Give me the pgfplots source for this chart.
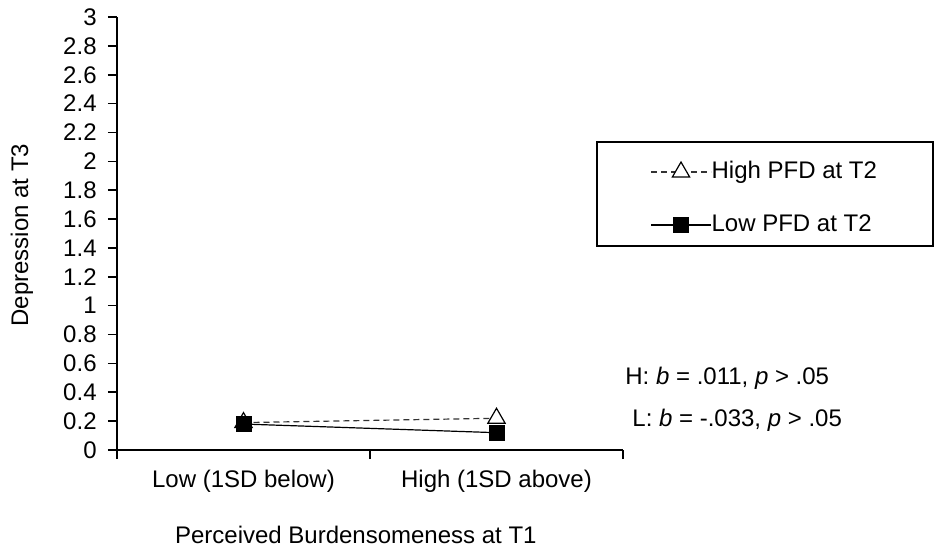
\documentclass[border=0pt]{standalone}
\usepackage{fontspec}
\setmainfont{Liberation Sans}
\usepackage{pgfplots}
\pgfplotsset{compat=1.18}
\usetikzlibrary{plotmarks}

\begin{document}
\begin{tikzpicture}
\fontsize{12}{14}\selectfont
\begin{axis}[
    scale only axis,
    width=253pt,
    height=216.5pt,
    xmin=0, xmax=2,
    ymin=0, ymax=3,
    axis x line=bottom,
    axis y line=left,
    axis line style={-, line width=0.8pt},
    every tick/.style={black, line width=0.8pt},
    tick align=outside,
    major tick length=4.5pt,
    tick label style={font=\fontsize{12}{14}\selectfont},
    xtick={0,1,2},
    xticklabels={},
    extra x ticks={0.5,1.5},
    extra x tick labels={Low (1SD below),High (1SD above)},
    extra x tick style={major tick length=0pt, xticklabel style={yshift=-6pt}},
    ytick={0,0.2,...,3.01},
    yticklabels={0,0.2,0.4,0.6,0.8,1,1.2,1.4,1.6,1.8,2,2.2,2.4,2.6,2.8,3},
    yticklabel style={font=\fontsize{12}{14}\selectfont, xshift=-1.5pt},
    xlabel={Perceived Burdensomeness at T1},
    xlabel style={at={(axis description cs:0.472,0)}, anchor=center, yshift=-42.5pt, font=\fontsize{12}{14}\selectfont},
    ylabel={Depression at T3},
    ylabel style={at={(axis description cs:-0.1877,0.4965)}, anchor=center, font=\fontsize{12}{14}\selectfont},
    clip=false,
    legend image code/.code={
        \draw[mark repeat=2,mark phase=2] plot coordinates {(0pt,0pt) (15pt,0pt) (30pt,0pt)};
    },
    legend style={
        draw=none, fill=none,
        at={(1.0415,0.5808)}, anchor=west,
        font=\fontsize{12}{14}\selectfont,
        nodes={inner sep=0pt, text height=8.6pt, text depth=2.6pt},
        row sep=15.3pt,
        column sep=0pt,
        cells={anchor=west},
    },
]
\addplot[black!80, densely dashed, line width=0.6pt,
    mark=triangle*, mark size=5pt,
    mark options={solid, fill=white, draw=black, line width=0.6pt}]
    coordinates {(0.5,0.19) (1.5,0.22)};
\addlegendentry{High PFD at T2}
\addplot[black, line width=0.6pt,
    mark=square*, mark size=3.7pt,
    mark options={solid, fill=black}]
    coordinates {(0.5,0.18) (1.5,0.12)};
\addlegendentry{Low PFD at T2}
\end{axis}
\draw[line width=0.6pt] (240pt,102pt) rectangle (408pt,154pt);
\node[anchor=west, inner sep=0pt] at (254pt,36pt) {H: \textit{b} = .011, \textit{p} > .05};
\node[anchor=west, inner sep=0pt] at (257.5pt,15pt) {L: \textit{b} = -.033, \textit{p} > .05};
\pgfresetboundingbox
\path (-58.5pt,-52pt) rectangle (409pt,225pt);
\end{tikzpicture}
\end{document}
